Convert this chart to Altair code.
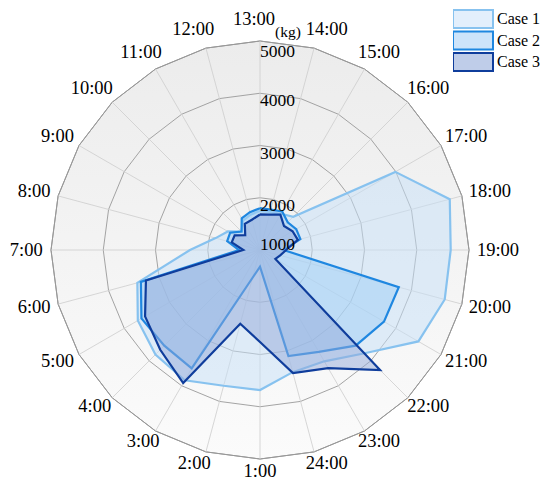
import altair as alt
import pandas as pd

# ---------------- data ----------------
hours = ["13:00", "14:00", "15:00", "16:00", "17:00", "18:00", "19:00", "20:00",
         "21:00", "22:00", "23:00", "24:00", "1:00", "2:00", "3:00", "4:00",
         "5:00", "6:00", "7:00", "8:00", "9:00", "10:00", "11:00", "12:00"]
case1 = [1750, 1750, 1800, 1900, 3990, 4760, 4650, 4660, 4500, 3800, 3460, 3420,
         3680, 3690, 3880, 3830, 3700, 3430, 2340, 1880, 1710, 1500, 1650, 1700]
case2 = [1800, 1800, 1850, 1750, 1800, 1800, 1450, 3750, 3740, 3590, 3250, 3100,
         1320, 1550, 3615, 3590, 3620, 3360, 1400, 1650, 1660, 1500, 1700, 1750]
case3 = [1680, 1700, 1780, 1650, 1720, 1750, 1500, 1400, 1340, 4250, 3610, 3440,
         2760, 2460, 3940, 3700, 3540, 3260, 1320, 1560, 1560, 1400, 1580, 1600]
series_names = ["Case 1", "Case 2", "Case 3"]
rings = [1000, 2000, 3000, 4000, 5000]
unit = "(kg)"

# colours
poly_fill = ["#c6e0f8", "#9dcdf5", "#93aad9"]
poly_stroke = ["#87c2ef", "#1f87e0", "#0f3d9c"]
legend_fill = ["#e3effc", "#cde4fa", "#bfcde9"]

# ---------------- layout (pixels) ----------------
W, H = 534, 475          # plot area = whole page inside margins
CX, CY = 252, 242        # centre of radar inside plot area
R_PX = 209               # radius of outer ring in px
n = len(hours)
rmin, rmax = rings[0], rings[-1]
K = R_PX / (rmax - rmin)  # px per kg

rows = []
for name, vals in zip(series_names, [case1, case2, case3]):
    for i in range(n + 1):
        rows.append({"case": name, "i": i, "hour": hours[i % n], "value": vals[i % n]})
df = pd.DataFrame(rows)

grid = pd.DataFrame([{"ring": r, "i": i} for r in rings[1:] for i in range(n + 1)])
spokes = pd.DataFrame({"hour": hours, "i": list(range(n))})
ticks = pd.DataFrame({"ring": rings})
unit_df = pd.DataFrame({"u": [unit], "ring": [rmax]})

theta = f"datum.i * 2 * PI / {n}"

xs = alt.Scale(domain=[-CX / K, (W - CX) / K], nice=False, zero=False)
ys = alt.Scale(domain=[-(H - CY) / K, CY / K], nice=False, zero=False)


def X(f):
    return alt.X(f, type="quantitative", scale=xs, axis=None)


def Y(f):
    return alt.Y(f, type="quantitative", scale=ys, axis=None)


FONT = "Liberation Serif"

# background (outer polygon, gradient fill)
bg = alt.Chart(grid).transform_filter(f"datum.ring == {rmax}").transform_calculate(
    t=theta,
    gx=f"(datum.ring - {rmin}) * sin(datum.t)",
    gy=f"(datum.ring - {rmin}) * cos(datum.t)",
).mark_line(
    fill=alt.LinearGradient(
        gradient="linear",
        stops=[alt.GradientStop(color="#ececec", offset=0),
               alt.GradientStop(color="#fbfbfb", offset=1)],
        x1=0, x2=0, y1=0, y2=1),
    stroke="#8c8c8c", strokeWidth=1,
).encode(x=X("gx"), y=Y("gy"), order="i:Q")

ring_lines = alt.Chart(grid).transform_calculate(
    t=theta,
    gx=f"(datum.ring - {rmin}) * sin(datum.t)",
    gy=f"(datum.ring - {rmin}) * cos(datum.t)",
).mark_line(stroke="#9a9a9a", strokeWidth=0.9).encode(
    x=X("gx"), y=Y("gy"), order="i:Q", detail="ring:N")

spoke_lines = alt.Chart(spokes).transform_calculate(
    t=theta,
    zx="0", zy="0",
    sx=f"{rmax - rmin} * sin(datum.t)",
    sy=f"{rmax - rmin} * cos(datum.t)",
).mark_rule(stroke="#cdcdcd", strokeWidth=0.8).encode(
    x=X("zx"), y=Y("zy"), x2="sx", y2="sy")


def series(k):
    name = series_names[k]
    return alt.Chart(df).transform_filter(alt.datum.case == name).transform_calculate(
        t=theta,
        px=f"(datum.value - {rmin}) * sin(datum.t)",
        py=f"(datum.value - {rmin}) * cos(datum.t)",
    ).mark_line(fill=poly_fill[k], fillOpacity=0.5, stroke=poly_stroke[k],
                strokeWidth=2.2, strokeJoin="miter").encode(
        x=X("px"), y=Y("py"), order="i:Q")


# legend (invisible points carrying the legend)
legend = alt.Legend(
    title=None, orient="none", legendX=445, legendY=0.5,
    symbolType="M-2.857,-1.286H2.857V1.286H-2.857Z", symbolSize=196, symbolStrokeWidth=2,
    symbolOpacity=1, clipHeight=21, symbolOffset=12,
    labelFont=FONT, labelFontSize=16, labelColor="black", labelOffset=16,
    rowPadding=0.5, padding=0,
)
legend_layer = alt.Chart(df).transform_calculate(
    t=theta,
    px=f"(datum.value - {rmin}) * sin(datum.t)",
    py=f"(datum.value - {rmin}) * cos(datum.t)",
).mark_point(filled=True, opacity=0, size=1).encode(
    x=X("px"), y=Y("py"),
    fill=alt.Fill("case:N", scale=alt.Scale(domain=series_names, range=legend_fill), legend=legend),
    stroke=alt.Stroke("case:N", scale=alt.Scale(domain=series_names, range=poly_stroke), legend=legend),
)

LR = 217
hour_labels = alt.Chart(spokes).transform_calculate(
    t=theta,
    c="cos(datum.t)",
    extra="abs(datum.c) > 0.9 && abs(datum.c) < 0.99 ? 20 : 0",
    lx=(f"(datum.c > 0.99 ? -6 / {K} : "
        f"({LR} + datum.extra + length(datum.hour) * 4.2) / {K} * sin(datum.t))"),
    ly=f"(datum.c > 0.99 ? 231 : datum.c > 0 ? 229 : 221) / {K} * datum.c",
).mark_text(font=FONT, fontSize=18.5, color="black", align="center", baseline="middle").encode(
    x=X("lx"), y=Y("ly"), text="hour:N")

ring_labels = alt.Chart(ticks).transform_calculate(
    rx="0",
    ry=(f"datum.ring == {rmin} ? 5 / {K} : "
        f"datum.ring == {rmax} ? datum.ring - {rmin} - 11 / {K} : "
        f"datum.ring - {rmin} - 8 / {K}"),
).mark_text(font=FONT, fontSize=17.5, color="black", align="left", baseline="middle").encode(
    x=X("rx"), y=Y("ry"), text=alt.Text("ring:Q", format="d"))

unit_label = alt.Chart(unit_df).transform_calculate(
    ux="0", uy=f"datum.ring - {rmin}",
).mark_text(font=FONT, fontSize=15.5, color="black", align="left", baseline="middle", dx=15, dy=-9).encode(
    x=X("ux"), y=Y("uy"), text="u:N")

chart = alt.layer(
    bg, ring_lines, spoke_lines,
    series(0), series(1), series(2),
    legend_layer,
    ring_labels, unit_label, hour_labels,
).properties(
    width=W, height=H, padding=0,
    autosize=alt.AutoSizeParams(type="none"),
).configure_view(stroke=None)

chart.save("out.html", embed_options={"renderer": "svg", "actions": False})
